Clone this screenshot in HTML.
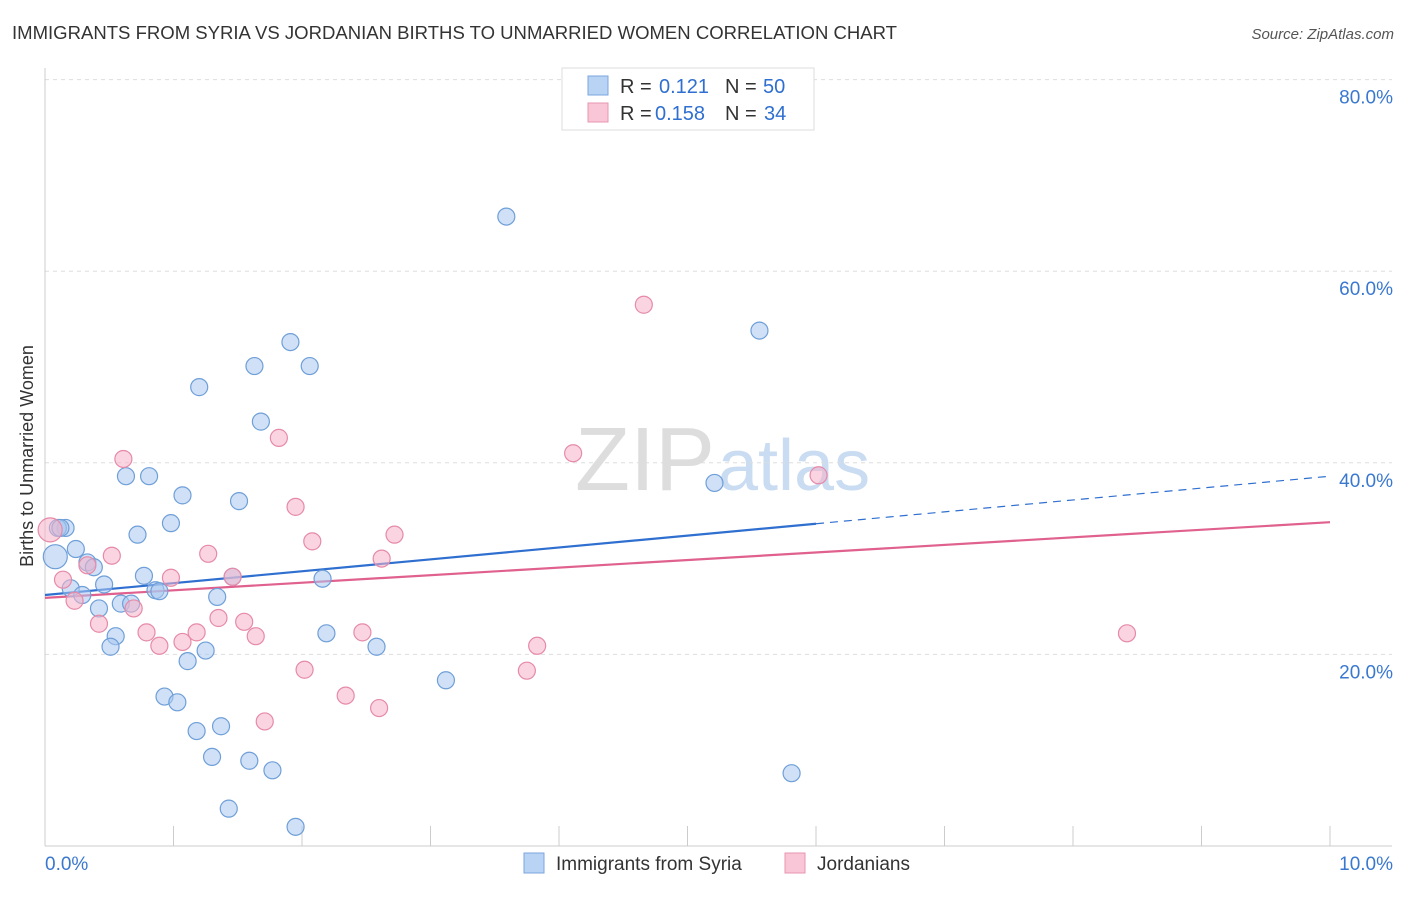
<!DOCTYPE html>
<html><head><meta charset="utf-8"><style>
body{margin:0;background:#fff;font-family:"Liberation Sans",sans-serif}
svg text{font-family:"Liberation Sans",sans-serif}
</style></head><body>
<svg id="chart" width="1406" height="892" xmlns="http://www.w3.org/2000/svg">
<text x="12" y="39" font-size="18" fill="#333" textLength="885" lengthAdjust="spacingAndGlyphs">IMMIGRANTS FROM SYRIA VS JORDANIAN BIRTHS TO UNMARRIED WOMEN CORRELATION CHART</text>
<text x="1394" y="39" font-size="15" fill="#555" font-style="italic" text-anchor="end">Source: ZipAtlas.com</text>
<text x="33" y="456" font-size="18" fill="#333" text-anchor="middle" transform="rotate(-90 33 456)">Births to Unmarried Women</text>
<text x="715" y="490" font-size="90" fill="#ddd" text-anchor="end" font-family="Liberation Serif">ZIP</text>
<text x="718" y="490" font-size="72" fill="#c9dcf2">atlas</text>
<g id="grid"></g><g id="axes"></g><g id="lines"></g><g id="pts"></g>
<g>
<rect x="562" y="68" width="252" height="62" fill="#fff" stroke="#ddd"/>
<rect x="588" y="76" width="20" height="19" fill="#b9d3f5" stroke="#7aa6dd"/>
<text x="620" y="93" font-size="20" fill="#333">R =</text>
<text x="659" y="93" font-size="20" fill="#2f6fd0">0.121</text>
<text x="725" y="93" font-size="20" fill="#333">N =</text>
<text x="763" y="93" font-size="20" fill="#2f6fd0">50</text>
<rect x="588" y="103" width="20" height="19" fill="#f8c6d6" stroke="#e895b0"/>
<text x="620" y="120" font-size="20" fill="#333">R =</text>
<text x="655" y="120" font-size="20" fill="#2f6fd0">0.158</text>
<text x="725" y="120" font-size="20" fill="#333">N =</text>
<text x="764" y="120" font-size="20" fill="#2f6fd0">34</text>
</g>
<g>
<rect x="524" y="853" width="20" height="20" fill="#b9d3f5" stroke="#7aa6dd"/>
<text x="556" y="870" font-size="19" fill="#333">Immigrants from Syria</text>
<rect x="785" y="853" width="20" height="20" fill="#f8c6d6" stroke="#e895b0"/>
<text x="817" y="870" font-size="19" fill="#333">Jordanians</text>
</g>
</svg>
<script>
const syriaX=[3.59,1.91,1.63,2.06,1.20,5.56,1.68,0.63,0.81,1.07,1.51,5.21,0.98,0.72,0.16,0.10,0.08,0.24,0.33,0.38,0.46,0.20,0.29,0.42,0.59,0.67,0.77,0.86,0.89,1.46,1.34,2.16,0.55,0.51,1.25,1.11,2.19,2.58,3.12,0.93,1.03,1.18,1.37,1.30,1.59,1.77,5.81,1.43,1.95,0.12];
const syriaY=[65.7,52.6,50.1,50.1,47.9,53.8,44.3,38.6,38.6,36.6,36.0,37.9,33.7,32.5,33.2,33.2,30.2,31.0,29.6,29.1,27.3,26.9,26.2,24.8,25.3,25.3,28.2,26.7,26.6,28.1,26.0,27.9,21.9,20.8,20.4,19.3,22.2,20.8,17.3,15.6,15.0,12.0,12.5,9.3,8.9,7.9,7.6,3.9,2.0,33.2];
const jordX=[4.66,1.82,0.61,4.11,6.02,1.95,2.72,2.08,2.62,1.27,0.52,0.04,0.14,0.98,0.33,1.46,0.23,0.69,0.42,0.79,0.89,1.07,1.18,1.35,1.55,1.64,2.47,3.83,2.02,3.75,2.34,2.60,1.71,8.42];
const jordY=[56.5,42.6,40.4,41.0,38.7,35.4,32.5,31.8,30.0,30.5,30.3,33.0,27.8,28.0,29.3,28.1,25.6,24.8,23.2,22.3,20.9,21.3,22.3,23.8,23.4,21.9,22.3,20.9,18.4,18.3,15.7,14.4,13.0,22.2];
const syriaTrend=[26.2,38.6];
const jordTrend=[25.9,33.8];
const yTicks=[20,40,60,80];
const yTickLabels=["20.0%","40.0%","60.0%","80.0%"];
const xTicks=[0,1,2,3,4,5,6,7,8,9,10];
const NS="http://www.w3.org/2000/svg";
const sx=v=>45+v*128.5, sy=v=>846-v*9.58;
function mk(t,a,p){const e=document.createElementNS(NS,t);for(const k in a)e.setAttribute(k,a[k]);p.appendChild(e);return e;}
const g=document.getElementById('grid'),ax=document.getElementById('axes'),ln=document.getElementById('lines'),pt=document.getElementById('pts');
yTicks.forEach((v,i)=>{
 const l=mk('line',{x1:45,x2:1392,y1:sy(v),y2:sy(v),stroke:'#ddd','stroke-dasharray':'4,4'},g);
 
 
 const t=mk('text',{x:1393,y:sy(v)+24,'font-size':19,fill:'#3a78d0','text-anchor':'end'},ax);
 t.textContent=yTickLabels[i];
 
 
});
const base=mk('line',{x1:45,x2:1392,y1:846,y2:846,stroke:'#ccc'},ax);


const yl=mk('line',{x1:45,x2:45,y1:68,y2:846,stroke:'#ccc'},ax);


xTicks.forEach(v=>{const l=mk('line',{x1:sx(v),x2:sx(v),y1:826,y2:846,stroke:'#ccc'},ax);
 
 });
[[0,"0.0%",'start',45],[10,"10.0%",'end',1393]].forEach(d=>{const t=mk('text',{x:d[3],y:870,'font-size':19,fill:'#3a78d0','text-anchor':d[2]},ax);t.textContent=d[1];
 
 });
function pts(X,Y,fill,stroke,name,bigIdx){X.forEach((x,i)=>{const r=bigIdx.includes(i)?12:8.5;const c=mk('circle',{cx:sx(x),cy:sy(Y[i]),r:r,fill:fill,'fill-opacity':0.55,stroke:stroke,'stroke-width':1.2},pt);
 
 });}
pts(syriaX,syriaY,'#a9c8f0','#6f9fd8','syria-point',[16]);
pts(jordX,jordY,'#f5b3c8','#e68aa8','jordanian-point',[11]);
const bAt=x=>syriaTrend[0]+(syriaTrend[1]-syriaTrend[0])*x/10;
const l1=mk('line',{x1:sx(0),y1:sy(bAt(0)),x2:sx(6),y2:sy(bAt(6)),stroke:'#2f6fd0','stroke-width':2.2},ln);


const l2=mk('line',{x1:sx(6),y1:sy(bAt(6)),x2:sx(10),y2:sy(bAt(10)),stroke:'#2f6fd0','stroke-width':1.2,'stroke-dasharray':'8,6'},ln);


const l3=mk('line',{x1:sx(0),y1:sy(jordTrend[0]),x2:sx(10),y2:sy(jordTrend[1]),stroke:'#e0608e','stroke-width':2.2},ln);


</script>
</body></html>
